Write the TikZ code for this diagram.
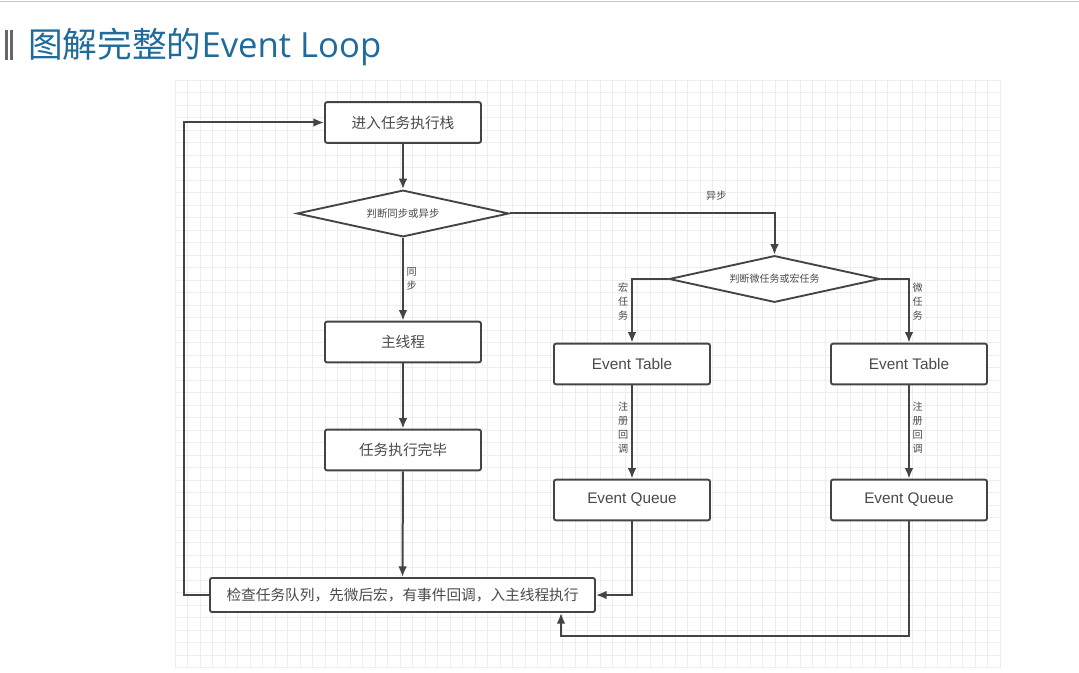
\documentclass[tikz,border=0pt]{standalone}
\usepackage{fontspec}
\setmainfont{Liberation Sans}
\newfontfamily\cjk{Noto Sans CJK SC}
\newfontfamily\titlefont{Open Sans}
\usetikzlibrary{shapes.geometric,arrows.meta}
\definecolor{titleblue}{HTML}{1E6B9C}
\definecolor{linec}{HTML}{444444}
\definecolor{textc}{HTML}{4A4A4A}
\definecolor{gridc}{HTML}{EEEEEE}
\tikzset{
  stepbox/.style={draw=linec, line width=1.4pt, rounded corners=1.5pt, fill=white,
    minimum width=117pt, minimum height=30.5pt, inner sep=0pt, text=textc,
    font=\cjk\fontsize{11}{13}\selectfont},
  eventbox/.style={stepbox, font=\fontsize{11.5}{13}\selectfont},
  decide/.style={diamond, draw=linec, line width=1.4pt, fill=white, inner sep=0pt,
    aspect=4.5, minimum width=159pt, minimum height=35pt, text=textc,
    font=\cjk\fontsize{7.8}{9}\selectfont},
  arr/.style={draw=linec, line width=1.5pt, -{Latex[length=8pt,width=6.5pt]}},
  vlabel/.style={text=textc, align=center, inner sep=2pt,
    font=\cjk\fontsize{7.6}{10.4}\selectfont},
  gridline/.style={draw=gridc, line width=0.5pt}
}
\begin{document}
\begin{tikzpicture}[x=0.75pt,y=-0.75pt]
\useasboundingbox (0,0) rectangle (1079,673);
\fill[white] (0,0) rectangle (1079,673);
% top border line
\draw[gray!45, line width=1.2pt] (0,1.5) -- (1079,1.5);
% title
\fill[gray!80!black] (5,30) rectangle (7.5,60);
\fill[gray!80!black] (9.5,30) rectangle (12.5,60);
\node[anchor=west, inner sep=0pt, text=titleblue] (title) at (28,47)
  {{\cjk\fontsize{26}{30}\selectfont 图解完整的}{\titlefont\fontsize{26}{30}\selectfont Event Loop}};
% grid
\foreach \i in {0,...,66} \draw[gridline] ({175+12.5*\i},80) -- ({175+12.5*\i},668);
\foreach \j in {0,...,47} \draw[gridline] (175,{80+12.5*\j}) -- (1000,{80+12.5*\j});
% nodes
\node[stepbox] (enter) at (403,122.5) {进入任务执行栈};
\node[decide] (d1) at (403,213.5) {判断同步或异步};
\node[stepbox] (main) at (403,342) {主线程};
\node[stepbox] (done) at (403,450) {任务执行完毕};
\node[stepbox, minimum width=288.75pt, minimum height=25.5pt] (check) at (402.5,595) {检查任务队列，先微后宏，有事件回调，入主线程执行};
\node[decide, minimum width=158pt, font=\cjk\fontsize{7.5}{9}\selectfont] (d2) at (774.5,279) {判断微任务或宏任务};
\node[eventbox] (etl) at (632,364) {Event Table};
\node[eventbox] (etr) at (909,364) {Event Table};
\node[eventbox] (eql) at (632,500) {Event Queue};
\node[eventbox] (eqr) at (909,500) {Event Queue};
\coordinate (back) at (561,636);
% connectors
\draw[arr] (enter) -- (d1);
\draw[arr] (d1) -- node[vlabel, right, pos=0.5] {同\\步} (main);
\draw[arr] (d1.east) -| node[vlabel, pos=0.39, above=7pt] {异步} (d2.north);
\draw[arr] (d2.west) -| node[vlabel, left, pos=0.68] {宏\\任\\务} (etl.north);
\draw[arr] (d2.east) -| node[vlabel, right, pos=0.68] {微\\任\\务} (etr.north);
\draw[arr] (etl) -- node[vlabel, left, pos=0.45] {注\\册\\回\\调} (eql);
\draw[arr] (etr) -- node[vlabel, right, pos=0.45] {注\\册\\回\\调} (eqr);
\draw[arr] (main) -- (done);
\draw[arr] (done) -- (check);
\draw[arr] (eql.south) |- (check.east);
\draw[arr] (eqr.south) |- (back) -- (back |- check.south);
\draw[arr] (check.west) -- ++(-25,0) |- (enter.west);
\end{tikzpicture}
\end{document}
